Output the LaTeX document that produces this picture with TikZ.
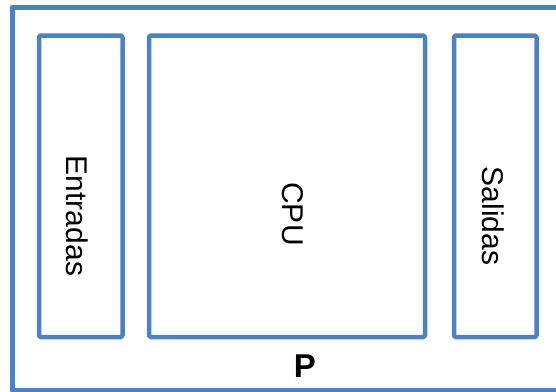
\documentclass[tikz,border=0pt]{standalone}
\usepackage{fontspec}
\setmainfont{Liberation Sans}
\definecolor{boxblue}{RGB}{79,129,189}
\tikzset{
  blockbox/.style={draw=boxblue, line width=4.5pt, line join=round, rounded corners=1.5pt, inner sep=0pt, outer sep=0pt},
  vlabel/.style={rotate=-90, font=\fontsize{30}{36}\selectfont, inner sep=0pt},
  plabel/.style={font=\fontsize{33}{38}\selectfont\bfseries, inner sep=0pt}
}
\begin{document}
\begin{tikzpicture}[x=1pt,y=-1pt]
\useasboundingbox (0,0) rectangle (556,391);
\clip (0,0) rectangle (556,391);
\fill[white] (0,0) rectangle (556,391);
\node[blockbox, rounded corners=0pt, line width=5pt, minimum width=620pt, minimum height=383pt, anchor=north west] (outer) at (12,7.5) {};
\node[blockbox, minimum width=83.5pt, minimum height=301.5pt, anchor=north west] (entradas) at (39,35.5) {};
\node[blockbox, minimum width=276pt, minimum height=301.5pt, anchor=north west] (cpu) at (149,35.5) {};
\node[blockbox, minimum width=82.5pt, minimum height=301.5pt, anchor=north west] (salidas) at (454,35.5) {};
\node[vlabel] (tentradas) at (77,216) {Entradas};
\node[vlabel] (tcpu) at (293,214) {CPU};
\node[vlabel] (tsalidas) at (493,216) {Salidas};
\node[plabel] (tp) at (305,366) {P};
\end{tikzpicture}
\end{document}
